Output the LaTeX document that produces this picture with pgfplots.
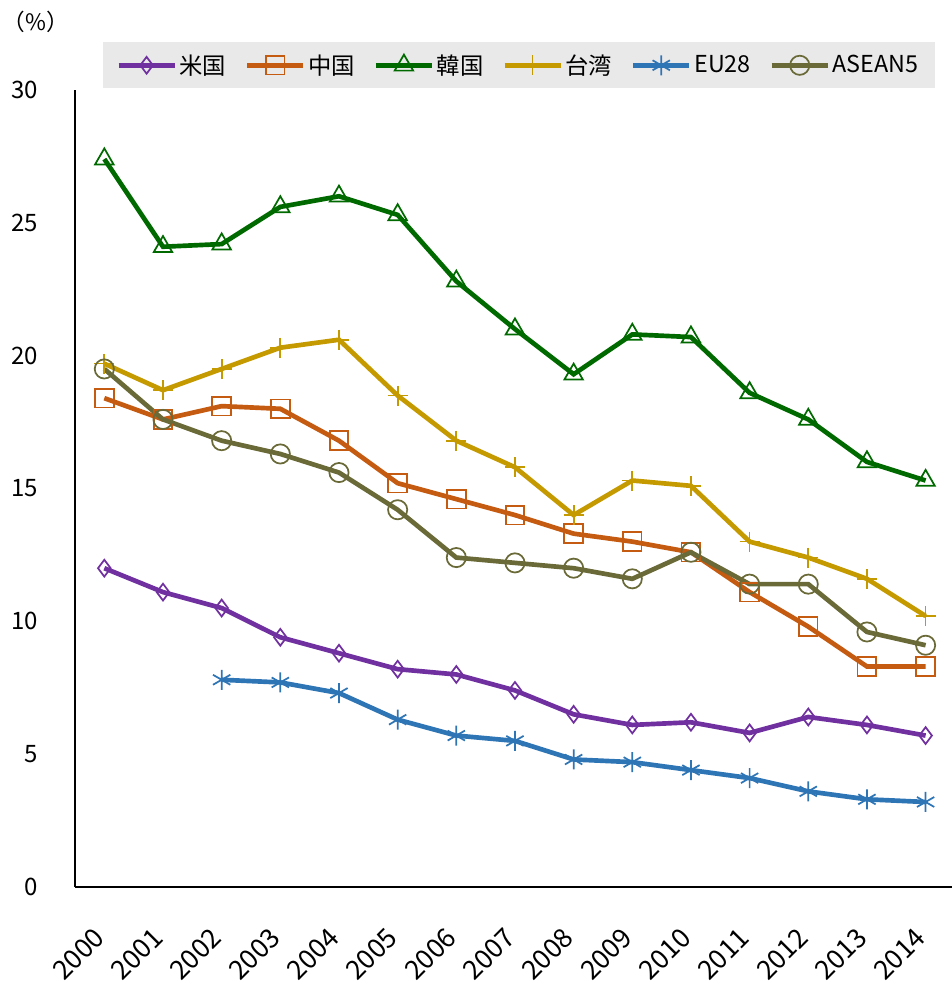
\documentclass[border=0pt]{standalone}
\usepackage{pgfplots}
\pgfplotsset{compat=1.18}
\usepackage{fontspec}
\setmainfont{Noto Sans CJK JP}

\definecolor{cUS}{HTML}{7030A0}
\definecolor{cCN}{HTML}{C55A11}
\definecolor{cKR}{HTML}{006A00}
\definecolor{cTW}{HTML}{C49A00}
\definecolor{cEU}{HTML}{2E75B6}
\definecolor{cAS}{HTML}{6A6A38}

\begin{document}
\begin{tikzpicture}
\useasboundingbox (-56.25pt,-75.75pt) rectangle (657.75pt,665.25pt);
\begin{axis}[
  scale only axis,
  width=657.75pt, height=597.75pt,
  xmin=1999.5, xmax=2014.45,
  ymin=0, ymax=30,
  axis x line=bottom, axis y line=left,
  axis line style={-, line width=1.1pt},
  major tick length=0pt,
  xtick={2000,...,2014},
  ytick={0,5,...,30},
  /pgf/number format/1000 sep={},
  /pgf/number format/assume math mode=true,
  tick label style={font=\fontsize{18}{20}\selectfont},
  xticklabel style={font=\fontsize{20}{20}\selectfont, xshift=-9pt, yshift=-29pt, rotate=45, anchor=north east, inner sep=0pt},
  yticklabel style={xshift=-24pt},
  legend columns=6,
  legend style={at={(0.506,1.060)}, anchor=north, fill=gray!17, draw=none,
    font=\fontsize{17.5}{20}\selectfont, inner xsep=10pt, inner ysep=7pt,
    /tikz/every even column/.append style={column sep=12pt}},
  legend image code/.code={\draw[mark repeat=2,mark phase=2] plot coordinates {(0pt,0pt) (21pt,0pt) (42pt,0pt)};},
  every axis plot/.append style={line width=3.5pt},
  clip=false,
]
\addplot[cUS, mark=diamond, mark size=6.3pt, mark options={solid, fill=white, line width=1.3pt}] coordinates {
(2000,12.0) (2001,11.1) (2002,10.5) (2003,9.4) (2004,8.8) (2005,8.2) (2006,8.0) (2007,7.4)
(2008,6.5) (2009,6.1) (2010,6.2) (2011,5.8) (2012,6.4) (2013,6.1) (2014,5.7)};
\addlegendentry{米国}
\addplot[cCN, mark=square, mark size=7pt, mark options={solid, fill=white, line width=1.3pt}] coordinates {
(2000,18.4) (2001,17.6) (2002,18.1) (2003,18.0) (2004,16.8) (2005,15.2) (2006,14.6) (2007,14.0)
(2008,13.3) (2009,13.0) (2010,12.6) (2011,11.1) (2012,9.8) (2013,8.3) (2014,8.3)};
\addlegendentry{中国}
\addplot[cKR, mark=triangle, mark size=8pt, mark options={solid, fill=white, line width=1.3pt}] coordinates {
(2000,27.4) (2001,24.1) (2002,24.2) (2003,25.6) (2004,26.0) (2005,25.3) (2006,22.8) (2007,21.0)
(2008,19.3) (2009,20.8) (2010,20.7) (2011,18.6) (2012,17.6) (2013,16.0) (2014,15.3)};
\addlegendentry{韓国}
\addplot[cTW, mark=+, mark size=7.5pt, mark options={solid, line width=1.3pt}] coordinates {
(2000,19.7) (2001,18.7) (2002,19.5) (2003,20.3) (2004,20.6) (2005,18.5) (2006,16.8) (2007,15.8)
(2008,14.0) (2009,15.3) (2010,15.1) (2011,13.0) (2012,12.4) (2013,11.6) (2014,10.2)};
\addlegendentry{台湾}
\addplot[cEU, mark=asterisk, mark size=7.5pt, mark options={solid, line width=1.3pt}] coordinates {
(2002,7.8) (2003,7.7) (2004,7.3) (2005,6.3) (2006,5.7) (2007,5.5)
(2008,4.8) (2009,4.7) (2010,4.4) (2011,4.1) (2012,3.6) (2013,3.3) (2014,3.2)};
\addlegendentry{EU28}
\addplot[cAS, mark=o, mark size=7.2pt, mark options={solid, fill=white, line width=1.3pt}] coordinates {
(2000,19.5) (2001,17.6) (2002,16.8) (2003,16.3) (2004,15.6) (2005,14.2) (2006,12.4) (2007,12.2)
(2008,12.0) (2009,11.6) (2010,12.6) (2011,11.4) (2012,11.4) (2013,9.6) (2014,9.1)};
\addlegendentry{ASEAN5}
\node[font=\fontsize{17}{20}\selectfont, anchor=north west, inner sep=0pt] at (rel axis cs:-0.083,1.099) {（\%）};
\end{axis}
\end{tikzpicture}
\end{document}
